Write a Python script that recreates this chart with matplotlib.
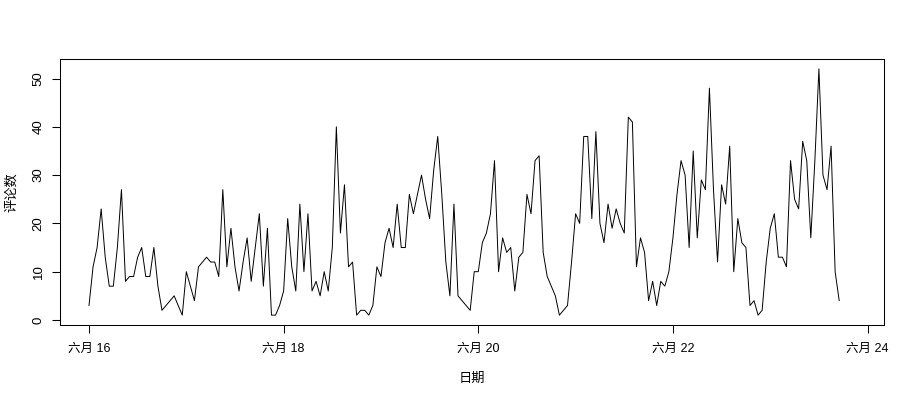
import matplotlib
matplotlib.use("Agg")
import matplotlib.pyplot as plt
import pandas as pd

plt.rcParams['font.family'] = ['Liberation Sans', 'Noto Sans CJK SC', 'DejaVu Sans']

# Hourly comment counts starting 16 June 00:00
counts = [3, 11, 15, 23, 13, 7, 7, 15, 27, 8, 9, 9, 13, 15, 9, 9, 15, 7, 2, 3,
          4, 5, 3, 1, 10, 7, 4, 11, 12, 13, 12, 12, 9, 27, 11, 19, 11, 6, 12, 17,
          8, 15, 22, 7, 19, 1, 1, 3, 6, 21, 11, 6, 24, 10, 22, 6, 8, 5, 10, 6,
          15, 40, 18, 28, 11, 12, 1, 2, 2, 1, 3, 11, 9, 16, 19, 15, 24, 15, 15, 26,
          22, 26, 30, 25, 21, 31, 38, 26, 12, 5, 24, 5, 4, 3, 2, 10, 10, 16, 18, 22,
          33, 10, 17, 14, 15, 6, 13, 14, 26, 22, 33, 34, 14, 9, 7, 5, 1, 2, 3, 12,
          22, 20, 38, 38, 21, 39, 20, 16, 24, 19, 23, 20, 18, 42, 41, 11, 17, 14, 4, 8,
          3, 8, 7, 10, 17, 26, 33, 30, 15, 35, 17, 29, 27, 48, 27, 12, 28, 24, 36, 10,
          21, 16, 15, 3, 4, 1, 2, 12, 19, 22, 13, 13, 11, 33, 25, 23, 37, 33, 17, 33,
          52, 30, 27, 36, 10, 4]
start_time = "2023-06-16 00:00"
tick_dates = ["2023-06-16", "2023-06-18", "2023-06-20", "2023-06-22", "2023-06-24"]
tick_labels = ["六月 16", "六月 18", "六月 20", "六月 22", "六月 24"]
y_ticks = [0, 10, 20, 30, 40, 50]
x_title = "日期"
y_title = "评论数"

times = pd.date_range(start_time, periods=len(counts), freq="h")

fig = plt.figure(figsize=(9, 4), dpi=100)
ax = fig.add_axes([60/900, 75/400, 824/900, 266/400])
ax.plot(times, counts, color="black", linewidth=0.7, antialiased=True)

t0 = pd.Timestamp(start_time)
ax.set_xlim(t0 - pd.Timedelta(hours=7.15), t0 + pd.Timedelta(hours=196.05))
ax.set_ylim(min(counts) - 0.04 * (max(counts) - min(counts)),
            max(counts) + 0.04 * (max(counts) - min(counts)))

ax.set_xticks([pd.Timestamp(d) for d in tick_dates])
ax.set_xticklabels(tick_labels, fontsize=9)
ax.set_yticks(y_ticks)
ax.set_yticklabels([str(v) for v in y_ticks], fontsize=9.5, rotation=90, va="center")

ax.tick_params(axis="both", direction="out", length=6, width=0.75, color="black")
ax.tick_params(axis="x", pad=7)
ax.tick_params(axis="y", pad=5)
for s in ax.spines.values():
    s.set_linewidth(0.75)
    s.set_color("black")

ax.set_xlabel(x_title, fontsize=9.5)
ax.set_ylabel(y_title, fontsize=9.5)
ax.xaxis.set_label_coords(0.5, (325 - 373) / 266)
ax.yaxis.set_label_coords((18 - 60) / 824, 0.5)

fig.savefig("out.png", dpi=100)
